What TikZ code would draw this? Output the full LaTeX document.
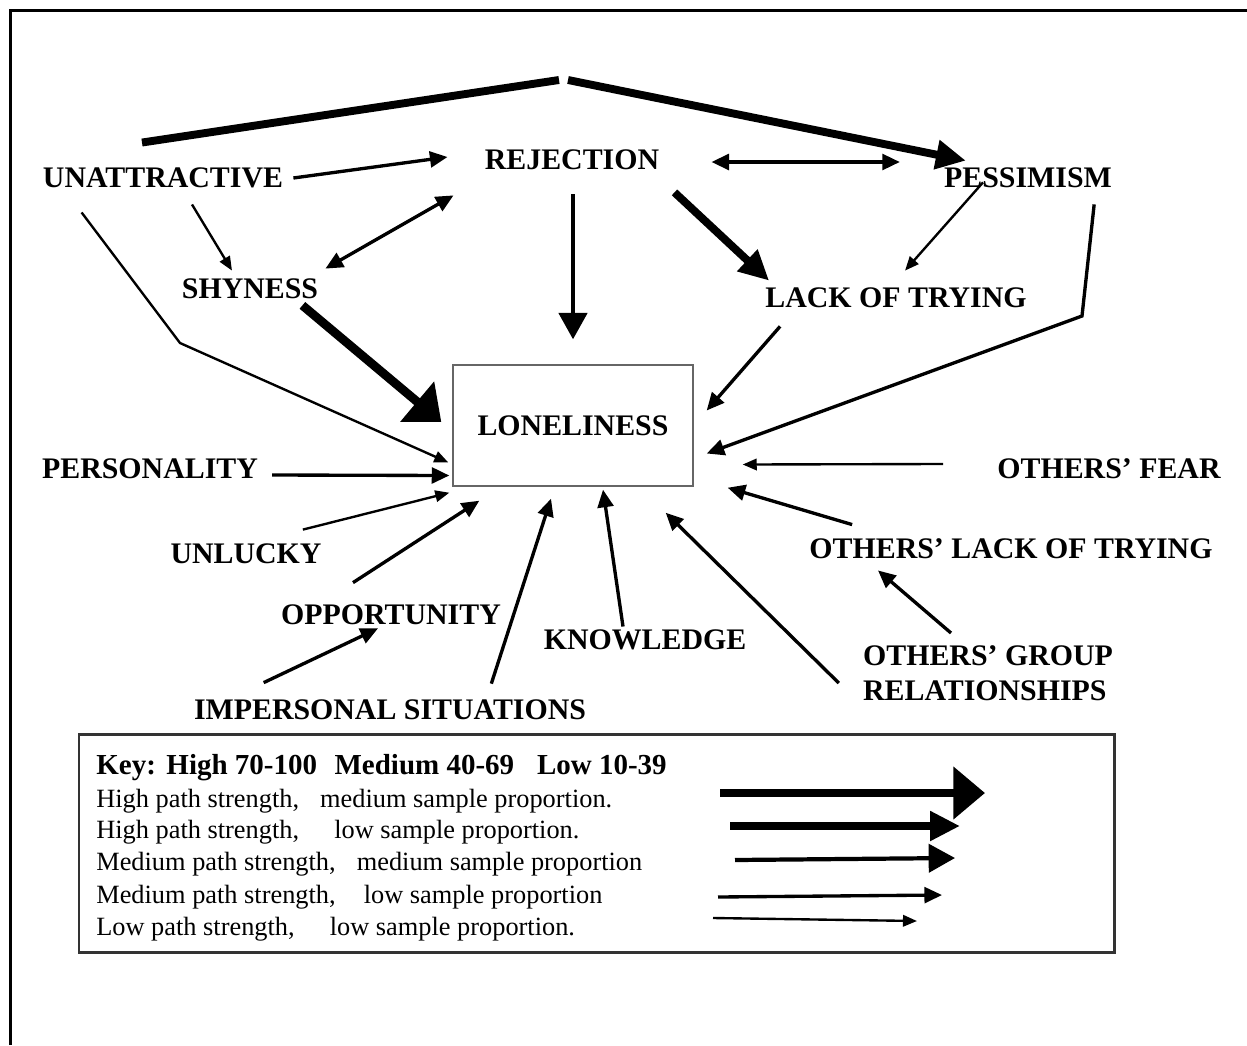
\documentclass[tikz,border=0pt]{standalone}
\usepackage{fontspec}
\setmainfont{Liberation Serif}
\usetikzlibrary{arrows.meta,calc}

\begin{document}
\begin{tikzpicture}[x=0.02cm, y=-0.02cm,
    lbl/.style={font=\bfseries\fontsize{17}{20}\selectfont, inner sep=0pt},
    keyrow/.style={anchor=base west, inner sep=0pt, font=\fontsize{15}{17}\selectfont},
    highmed/.style={line width=5pt, >={Triangle[length=18pt,width=29pt]}},
    highlow/.style={line width=4.5pt, >={Triangle[length=17pt,width=16pt]}},
    medmed/.style={line width=2.4pt, >={Triangle[length=15pt,width=16pt]}},
    medlow/.style={line width=1.9pt, >={Triangle[length=10pt,width=9pt]}},
    lowlow/.style={line width=1.35pt, >={Triangle[length=8pt,width=6.5pt]}}]
  \useasboundingbox (0,0) rectangle (1247,1045);
  \draw[line width=1.8pt] (10.5,1045) -- (10.5,10.5) -- (1247,10.5);

  \node[lbl] (unatt) at (163,178) {UNATTRACTIVE};
  \node[lbl] (rej) at (572,160) {REJECTION};
  \node[lbl] (pess) at (1028,178) {PESSIMISM};
  \node[lbl] (shy) at (250,289) {SHYNESS};
  \node[lbl] (lack) at (896,298) {LACK OF TRYING};
  \node[lbl, draw=black!60, line width=0.8pt, minimum width=4.8cm, minimum height=2.42cm] (lone) at (573,425.5) {LONELINESS};
  \node[lbl] (pers) at (150,469) {PERSONALITY};
  \node[lbl] (ofear) at (1109,469) {OTHERS’ FEAR};
  \node[lbl] (unlucky) at (246,554) {UNLUCKY};
  \node[lbl] (olack) at (1011,549) {OTHERS’ LACK OF TRYING};
  \node[lbl] (opp) at (391,615) {OPPORTUNITY};
  \node[lbl] (know) at (645,640) {KNOWLEDGE};
  \node[lbl, align=left] (ogroup) at (988,673) {OTHERS’ GROUP\\RELATIONSHIPS};
  \node[lbl] (imp) at (390,710) {IMPERSONAL SITUATIONS};

  \coordinate (apexL) at (559,80);
  \coordinate (apexR) at (568,80);
  \coordinate (bendL) at (180,343);
  \coordinate (bendR) at (1082,316);

  % top of the diagram
  \draw[highlow] ($(unatt.north)+(-21,-25)$) -- (apexL);
  \draw[highlow,->] (apexR) -- ($(pess.north west)+(22,-7)$);
  \draw[medlow,->] ($(unatt.east)+(10,0)$) -- ($(rej.west)+(-37,-3)$);
  \draw[medlow,<->] ($(rej.east)+(52,2)$) -- ($(pess.west)+(-44,-16)$);
  \draw[lowlow,->] ($(unatt.south)+(29,16)$) -- ($(shy.north)+(-18,-8)$);
  \draw[medlow,<->] ($(shy.north east)+(7,-10)$) -- ($(rej.south west)+(-31,25)$);
  \draw[highlow,->] ($(rej.south east)+(15,22)$) -- ($(lack.north west)+(4,-7)$);
  \draw[lowlow,->] ($(pess.south)+(-45,-6)$) -- ($(lack.north)+(9,-17)$);

  % into loneliness
  \draw[medmed,->] ($(rej.south)+(1,24)$) -- ($(lone.north)+(0,-25)$);
  \draw[highmed,->] ($(shy.south east)+(-16,6)$) -- ($(lone.west)+(-11,-3.5)$);
  \draw[lowlow,->] ($(unatt.south west)+(39,24)$) -- (bendL) -- ($(lone.west)+(-4,37)$);
  \draw[medlow,->] ($(lack.south west)+(15,18)$) -- ($(lone.east)+(13,-15)$);
  \draw[medlow,->] ($(pess.south east)+(-18,16)$) -- (bendR) -- ($(lone.east)+(13,28)$);
  \draw[medlow,->] ($(pers.east)+(14,6)$) -- ($(lone.west)+(-3,50)$);
  \draw[lowlow,->] ($(ofear.west)+(-54,-5)$) -- ($(lone.east)+(49,39)$);
  \draw[lowlow,->] ($(unlucky.north east)+(-19,-14)$) -- ($(lone.south west)+(-3,6)$);
  \draw[medlow,->] ($(opp.north)+(-38,-22)$) -- ($(lone.south west)+(27,14)$);
  \draw[medlow,->] ($(olack.north west)+(43,-14)$) -- ($(lone.south east)+(34,1)$);
  \draw[medlow,->] ($(imp.north west)+(70,-17)$) -- ($(opp.south)+(-13,3)$);
  \draw[medlow,->] ($(imp.north east)+(-95,-16)$) -- ($(lone.south)+(-22,12)$);
  \draw[medlow,->] ($(know.north)+(-22,-3)$) -- ($(lone.south)+(30,3)$);
  \draw[medlow,->] ($(ogroup.west)+(-24,10)$) -- ($(lone.south east)+(-28,26)$);
  \draw[medlow,->] ($(ogroup.north)+(-37,-12)$) -- ($(olack.south)+(-133,11)$);

  % key
  \draw[line width=1.7pt, black!80] (79,734) rectangle (1114,952);
  \node[keyrow, font=\bfseries\fontsize{16.5}{18}\selectfont] (keyhead) at (96,774)
    {Key:\hspace{6pt}High 70-100\hspace{10pt}Medium 40-69\hspace{13pt}Low 10-39};
  \node[keyrow] (row1) at (96,807) {High path strength,\hspace{12pt}medium sample proportion.};
  \node[keyrow] (row2) at (96,838) {High path strength,\hspace{20pt}low sample proportion.};
  \node[keyrow] (row3) at (96,870) {Medium path strength,\hspace{12pt}medium sample proportion};
  \node[keyrow] (row4) at (96,903) {Medium path strength,\hspace{16pt}low sample proportion};
  \node[keyrow] (row5) at (96,935) {Low path strength,\hspace{20pt}low sample proportion.};
  \draw[highmed,->] (720,793) -- (985,793);
  \draw[highlow,->] (730,826) -- (960,826);
  \draw[medmed,->] (735,860) -- (955,858);
  \draw[medlow,->] (718,897) -- (942,895);
  \draw[lowlow,->] (713,918) -- (917,921);
\end{tikzpicture}
\end{document}
